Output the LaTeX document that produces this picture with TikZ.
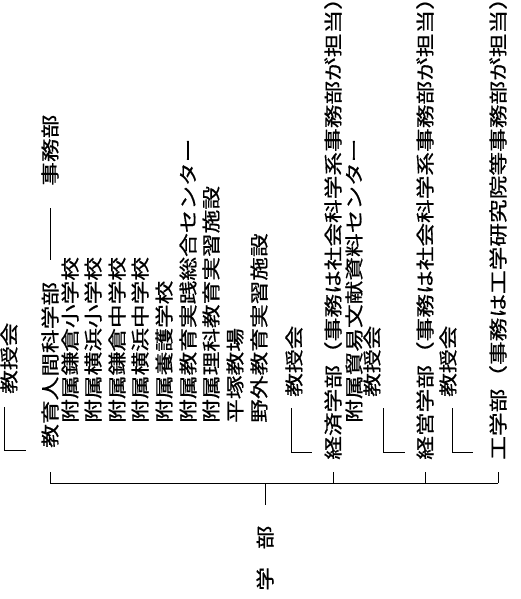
\documentclass[tikz,border=0pt]{standalone}
\usepackage{fontspec}
\newfontfamily\jpfont[FakeBold=0.6]{Noto Sans CJK JP}
\tikzset{
  lbl/.style={rotate=90, xscale=1.28, anchor=west, inner sep=0pt, font=\jpfont\fontsize{18.5}{22}\selectfont},
  bar/.style={line width=1pt},
  elbow/.style={line width=0.8pt}
}
\begin{document}
\begin{tikzpicture}[x=1pt,y=1pt]
\clip (0,0) rectangle (520,-599);
\fill[white] (0,0) rectangle (520,-599);
\node[lbl] (kj0) at (9,-394) {教授会};
\node[lbl] (edu) at (50,-448) {教育人間科学部};
\node[lbl] (jimu) at (50,-186) {事務部};
\node[lbl] (f1) at (70,-423) {附属鎌倉小学校};
\node[lbl] (f2) at (93,-423) {附属横浜小学校};
\node[lbl] (f3) at (117,-423) {附属鎌倉中学校};
\node[lbl] (f4) at (140,-423) {附属横浜中学校};
\node[lbl] (f5) at (164,-423) {附属養護学校};
\node[lbl] (f6) at (188,-423) {附属教育実践総合センター};
\node[lbl] (f7) at (211,-423) {附属理科教育実習施設};
\node[lbl] (f8) at (235,-423) {平塚教場};
\node[lbl] (f9) at (259,-423) {野外教育実習施設};
\node[lbl] (kj1) at (294,-397) {教授会};
\node[lbl] (keizai) at (333,-460) {経済学部（事務は社会科学系事務部が担当）};
\node[lbl] (kb) at (354,-423) {附属貿易文献資料センター};
\node[lbl] (kj2) at (372,-397) {教授会};
\node[lbl] (keiei) at (425,-460) {経営学部（事務は社会科学系事務部が担当）};
\node[lbl] (kj3) at (448,-397) {教授会};
\node[lbl] (kogaku) at (498,-460) {工学部（事務は工学研究院等事務部が担当）};
\node[lbl] (gakubu) at (265,-591) {学\hspace{0.75em}部};
\coordinate (hub) at (265,-483);

\draw[bar] (edu.west |- hub) -- (kogaku.west |- hub);
\draw[bar] (gakubu.west |- hub) -- ++(0,-22);
\draw[bar] (edu.west |- hub) -- ++(0,11);
\draw[bar] (keizai.west |- hub) -- ++(0,11);
\draw[bar] (keiei.west |- hub) -- ++(0,11);
\draw[bar] (kogaku.west |- hub) -- ++(0,11);
\draw[bar, shorten <=22pt, shorten >=22pt] (edu.east) -- (jimu.west);

\draw[elbow] ([xshift=-5pt,yshift=-13pt]kj0.west) -- ++(0,-43) -- ++(22,0);
\draw[elbow] ([xshift=-3pt,yshift=-11pt]kj1.west) -- ++(0,-44) -- ++(21,0);
\draw[elbow] ([xshift=11pt,yshift=-11pt]kj2.west) -- ++(0,-44) -- ++(22,0);
\draw[elbow] ([xshift=4pt,yshift=-11pt]kj3.west) -- ++(0,-44) -- ++(21,0);
\end{tikzpicture}
\end{document}
